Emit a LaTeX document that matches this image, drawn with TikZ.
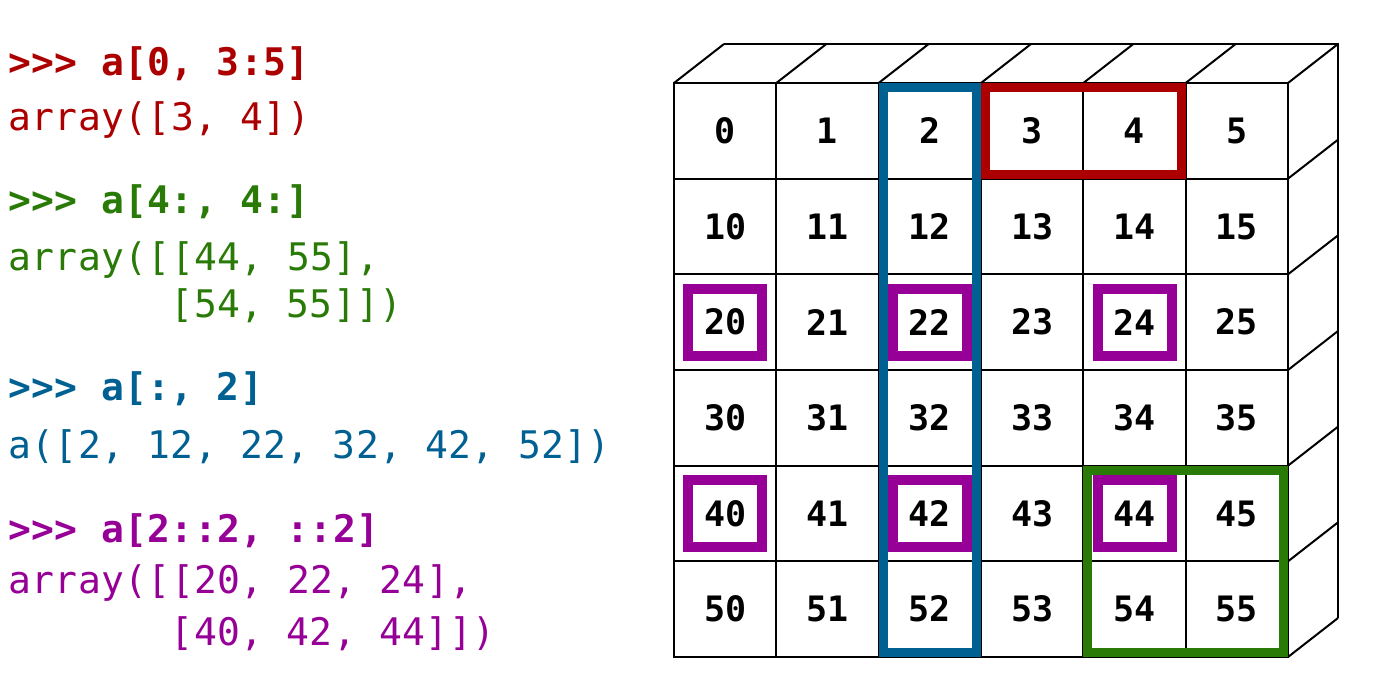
\documentclass[tikz,border=0pt]{standalone}
\usepackage{fontspec}
\newfontfamily\codefont{DejaVu Sans Mono}[LetterSpace=1]
\newfontfamily\cellfont{DejaVu Sans Mono}
\definecolor{slred}{RGB}{172,0,0}
\definecolor{slgreen}{RGB}{42,122,8}
\definecolor{slblue}{RGB}{0,96,146}
\definecolor{slpurple}{RGB}{150,0,150}

\begin{document}
\begin{tikzpicture}[x=0.5pt,y=-0.5pt,
    code/.style={anchor=base west,inner sep=0pt,font=\codefont\fontsize{19}{23}\selectfont},
    cell/.style={draw,line width=1pt,outer sep=0pt,inner sep=0pt,minimum width=51.17pt,minimum height=47.83pt,
        font=\cellfont\bfseries\fontsize{17.5}{21}\selectfont},
    edge/.style={line width=1pt},
    pick/.style={line width=5pt,slpurple},
    hilite/.style={line width=4.5pt}]
    \useasboundingbox (0,0) rectangle (1382,697);

    % python session
    \node[code,slred] (in1) at (8,75) {\bfseries>>> a[0, 3:5]};
    \node[code,slred] (out1) at (8,130) {array([3, 4])};
    \node[code,slgreen] (in2) at (8,213) {\bfseries>>> a[4:, 4:]};
    \node[code,slgreen] (out2a) at (8,270) {array([[44, 55],};
    \node[code,slgreen] (out2b) at (8,317) {\phantom{array([}[54, 55]])};
    \node[code,slblue] (in3) at (8,400) {\bfseries>>> a[:, 2]};
    \node[code,slblue] (out3) at (8,458) {a([2, 12, 22, 32, 42, 52])};
    \node[code,slpurple] (in4) at (8,542) {\bfseries>>> a[2::2, ::2]};
    \node[code,slpurple] (out4a) at (8,593) {array([[20, 22, 24],};
    \node[code,slpurple] (out4b) at (8,645) {\phantom{array([}[40, 42, 44]])};

    % front face
    \foreach \r in {0,...,5}
        \foreach \c in {0,...,5}{
            \pgfmathtruncatemacro\v{10*\r+\c}
            \node[cell] (c\r\c) at ({725.17+102.33*\c},{130.83+95.67*\r}) {\v};
        }

    % top and side faces
    \foreach \c in {0,...,5}
        \draw[edge] (c0\c.north west) -- ++(50,-39);
    \foreach \r in {0,...,5}
        \draw[edge] (c\r5.north east) -- ++(50,-39);
    \draw[edge] (c55.south east) -- ++(50,-39) coordinate (br);
    \draw[edge] ([shift={(50,-39)}]c00.north west) -- ([shift={(50,-39)}]c05.north east) coordinate (tr) -- (br);

    % a[2::2, ::2]
    \foreach \p in {20,22,24,40,42,44}
        \draw[pick] ([shift={(-37,-33.5)}]c\p.center) rectangle ([shift={(37,33.5)}]c\p.center);

    % a[:, 2]
    \draw[hilite,slblue] ([shift={(4.5,4.5)}]c02.north west) rectangle ([shift={(-4.5,-4.5)}]c52.south east);
    % a[0, 3:5]
    \draw[hilite,slred] ([shift={(4.5,4.5)}]c03.north west) rectangle ([shift={(-4.5,-4.5)}]c04.south east);
    % a[4:, 4:]
    \draw[hilite,slgreen] ([shift={(4.5,4.5)}]c44.north west) rectangle ([shift={(-4.5,-4.5)}]c55.south east);
\end{tikzpicture}
\end{document}
